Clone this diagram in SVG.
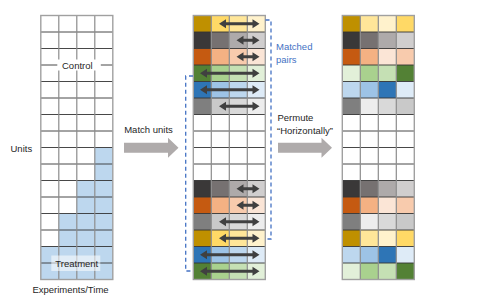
<svg xmlns="http://www.w3.org/2000/svg" xmlns:xlink="http://www.w3.org/1999/xlink" width="479" height="305" viewBox="0 0 479 305">
<style>
text{font-family:"Liberation Sans","Open Sans",Arial,sans-serif;font-size:9.5px;fill:#262626}
.blue-text{fill:#4472C4}
.hl{stroke:#333333;stroke-width:0.9;fill:none}
.vl{stroke:#8c8c8c;stroke-width:1.2;fill:none}
.border{stroke:#a0a0a0;stroke-width:1.4;fill:none}
.block{fill:#AFABAB}
.dbl{fill:#404040}
.bracket{stroke:#4472C4;stroke-width:1.3;stroke-dasharray:4 3;fill:none}
.wh{fill:#ffffff}
.tb{fill:#BDD7EE}
.g1{fill:#BF9000}.g2{fill:#FFD966}.g3{fill:#FFE699}.g4{fill:#FFF2CC}
.k1{fill:#3A3838}.k2{fill:#767171}.k3{fill:#AEAAAA}.k4{fill:#D0CECE}
.o1{fill:#C55A11}.o2{fill:#F4B183}.o3{fill:#F8CBAD}.o4{fill:#FBE5D6}
.e1{fill:#538135}.e2{fill:#A9D18E}.e3{fill:#C5E0B4}.e4{fill:#E2F0D9}
.b1{fill:#2E75B6}.b2{fill:#9DC3E6}.b3{fill:#BDD7EE}.b4{fill:#DEEBF7}
.m1{fill:#7F7F7F}.m2{fill:#C9C9C9}.m3{fill:#D9D9D9}.m4{fill:#EDEDED}
</style>
<defs>
<path id="dblFull" d="M0 0 L7 -4.5 L7 -1.5 L52.5 -1.5 L52.5 -4.5 L59.5 0 L52.5 4.5 L52.5 1.5 L7 1.5 L7 4.5 Z"/>
<path id="dblMed" d="M0 0 L7 -4.5 L7 -1.5 L33.5 -1.5 L33.5 -4.5 L40.5 0 L33.5 4.5 L33.5 1.5 L7 1.5 L7 4.5 Z"/>
<path id="dblShort" d="M0 0 L7 -4.5 L7 -1.5 L16 -1.5 L16 -4.5 L23 0 L16 4.5 L16 1.5 L7 1.5 L7 4.5 Z"/>
<g id="gridlines">
<path class="hl" d="M0 16.5H72M0 33H72M0 49.5H72M0 66H72M0 82.5H72M0 99H72M0 115.5H72M0 132H72M0 148.5H72M0 165H72M0 181.5H72M0 198H72M0 214.5H72M0 231H72M0 247.5H72"/>
<path class="vl" d="M18 0V264M36 0V264M54 0V264"/>
<rect class="border" x="0" y="0" width="72" height="264"/>
</g>
</defs>

<g id="grid-left" transform="translate(40.8,15.5)">
<rect class="wh" x="0" y="0" width="72" height="264"/>
<rect class="tb" x="54" y="132" width="18" height="132"/>
<rect class="tb" x="36" y="165" width="18" height="99"/>
<rect class="tb" x="18" y="198" width="18" height="66"/>
<rect class="tb" x="0" y="231" width="18" height="33"/>
<use xlink:href="#gridlines"/>
<rect x="16.5" y="44" width="43.5" height="11" fill="#ffffff"/>
<text x="36.5" y="53.3" text-anchor="middle">Control</text>
<rect x="10.5" y="240" width="49" height="15.5" fill="#ffffff" fill-opacity="0.55"/>
<text x="36" y="251" text-anchor="middle">Treatment</text>
</g>

<g id="label-units"><text x="10.5" y="151.5">Units</text></g>
<g id="label-time"><text x="70.5" y="292.5" text-anchor="middle">Experiments/Time</text></g>

<g id="grid-matched" transform="translate(193.3,15.5)">
<rect class="wh" x="0" y="0" width="72" height="264"/>
<rect class="g1" x="0" y="0" width="18" height="16.5"/><rect class="g2" x="18" y="0" width="18" height="16.5"/><rect class="g3" x="36" y="0" width="18" height="16.5"/><rect class="g4" x="54" y="0" width="18" height="16.5"/>
<rect class="k1" x="0" y="16.5" width="18" height="16.5"/><rect class="k2" x="18" y="16.5" width="18" height="16.5"/><rect class="k3" x="36" y="16.5" width="18" height="16.5"/><rect class="k4" x="54" y="16.5" width="18" height="16.5"/>
<rect class="o1" x="0" y="33" width="18" height="16.5"/><rect class="o2" x="18" y="33" width="18" height="16.5"/><rect class="o3" x="36" y="33" width="18" height="16.5"/><rect class="o4" x="54" y="33" width="18" height="16.5"/>
<rect class="e1" x="0" y="49.5" width="18" height="16.5"/><rect class="e2" x="18" y="49.5" width="18" height="16.5"/><rect class="e3" x="36" y="49.5" width="18" height="16.5"/><rect class="e4" x="54" y="49.5" width="18" height="16.5"/>
<rect class="b1" x="0" y="66" width="18" height="16.5"/><rect class="b2" x="18" y="66" width="18" height="16.5"/><rect class="b3" x="36" y="66" width="18" height="16.5"/><rect class="b4" x="54" y="66" width="18" height="16.5"/>
<rect class="m1" x="0" y="82.5" width="18" height="16.5"/><rect class="m2" x="18" y="82.5" width="18" height="16.5"/><rect class="m3" x="36" y="82.5" width="18" height="16.5"/><rect class="m4" x="54" y="82.5" width="18" height="16.5"/>
<rect class="k1" x="0" y="165" width="18" height="16.5"/><rect class="k2" x="18" y="165" width="18" height="16.5"/><rect class="k3" x="36" y="165" width="18" height="16.5"/><rect class="k4" x="54" y="165" width="18" height="16.5"/>
<rect class="o1" x="0" y="181.5" width="18" height="16.5"/><rect class="o2" x="18" y="181.5" width="18" height="16.5"/><rect class="o3" x="36" y="181.5" width="18" height="16.5"/><rect class="o4" x="54" y="181.5" width="18" height="16.5"/>
<rect class="m1" x="0" y="198" width="18" height="16.5"/><rect class="m2" x="18" y="198" width="18" height="16.5"/><rect class="m3" x="36" y="198" width="18" height="16.5"/><rect class="m4" x="54" y="198" width="18" height="16.5"/>
<rect class="g1" x="0" y="214.5" width="18" height="16.5"/><rect class="g2" x="18" y="214.5" width="18" height="16.5"/><rect class="g3" x="36" y="214.5" width="18" height="16.5"/><rect class="g4" x="54" y="214.5" width="18" height="16.5"/>
<rect class="b1" x="0" y="231" width="18" height="16.5"/><rect class="b2" x="18" y="231" width="18" height="16.5"/><rect class="b3" x="36" y="231" width="18" height="16.5"/><rect class="b4" x="54" y="231" width="18" height="16.5"/>
<rect class="e1" x="0" y="247.5" width="18" height="16.5"/><rect class="e2" x="18" y="247.5" width="18" height="16.5"/><rect class="e3" x="36" y="247.5" width="18" height="16.5"/><rect class="e4" x="54" y="247.5" width="18" height="16.5"/>
<use xlink:href="#gridlines"/>
</g>

<g id="grid-permuted" transform="translate(342.3,15.5)">
<rect class="wh" x="0" y="0" width="72" height="264"/>
<rect class="g1" x="0" y="0" width="18" height="16.5"/><rect class="g3" x="18" y="0" width="18" height="16.5"/><rect class="g4" x="36" y="0" width="18" height="16.5"/><rect class="g2" x="54" y="0" width="18" height="16.5"/>
<rect class="k1" x="0" y="16.5" width="18" height="16.5"/><rect class="k2" x="18" y="16.5" width="18" height="16.5"/><rect class="k3" x="36" y="16.5" width="18" height="16.5"/><rect class="k4" x="54" y="16.5" width="18" height="16.5"/>
<rect class="o1" x="0" y="33" width="18" height="16.5"/><rect class="o2" x="18" y="33" width="18" height="16.5"/><rect class="o4" x="36" y="33" width="18" height="16.5"/><rect class="o3" x="54" y="33" width="18" height="16.5"/>
<rect class="e4" x="0" y="49.5" width="18" height="16.5"/><rect class="e2" x="18" y="49.5" width="18" height="16.5"/><rect class="e3" x="36" y="49.5" width="18" height="16.5"/><rect class="e1" x="54" y="49.5" width="18" height="16.5"/>
<rect class="b3" x="0" y="66" width="18" height="16.5"/><rect class="b2" x="18" y="66" width="18" height="16.5"/><rect class="b1" x="36" y="66" width="18" height="16.5"/><rect class="b4" x="54" y="66" width="18" height="16.5"/>
<rect class="m1" x="0" y="82.5" width="18" height="16.5"/><rect class="m4" x="18" y="82.5" width="18" height="16.5"/><rect class="m3" x="36" y="82.5" width="18" height="16.5"/><rect class="m2" x="54" y="82.5" width="18" height="16.5"/>
<rect class="k1" x="0" y="165" width="18" height="16.5"/><rect class="k2" x="18" y="165" width="18" height="16.5"/><rect class="k3" x="36" y="165" width="18" height="16.5"/><rect class="k4" x="54" y="165" width="18" height="16.5"/>
<rect class="o1" x="0" y="181.5" width="18" height="16.5"/><rect class="o2" x="18" y="181.5" width="18" height="16.5"/><rect class="o4" x="36" y="181.5" width="18" height="16.5"/><rect class="o3" x="54" y="181.5" width="18" height="16.5"/>
<rect class="m1" x="0" y="198" width="18" height="16.5"/><rect class="m4" x="18" y="198" width="18" height="16.5"/><rect class="m3" x="36" y="198" width="18" height="16.5"/><rect class="m2" x="54" y="198" width="18" height="16.5"/>
<rect class="g1" x="0" y="214.5" width="18" height="16.5"/><rect class="g3" x="18" y="214.5" width="18" height="16.5"/><rect class="g4" x="36" y="214.5" width="18" height="16.5"/><rect class="g2" x="54" y="214.5" width="18" height="16.5"/>
<rect class="b3" x="0" y="231" width="18" height="16.5"/><rect class="b2" x="18" y="231" width="18" height="16.5"/><rect class="b1" x="36" y="231" width="18" height="16.5"/><rect class="b4" x="54" y="231" width="18" height="16.5"/>
<rect class="e4" x="0" y="247.5" width="18" height="16.5"/><rect class="e2" x="18" y="247.5" width="18" height="16.5"/><rect class="e3" x="36" y="247.5" width="18" height="16.5"/><rect class="e1" x="54" y="247.5" width="18" height="16.5"/>
<use xlink:href="#gridlines"/>
</g>

<g id="connectors">
<polygon class="block" points="124,142.7 168,142.7 168,137.7 178.5,147.7 168,157.7 168,152.7 124,152.7"/>
<polygon class="block" points="278,142.7 321.5,142.7 321.5,137.7 332,147.7 321.5,157.7 321.5,152.7 278,152.7"/>
<g class="dbl">
<use xlink:href="#dblMed" x="219" y="23.75"/>
<use xlink:href="#dblShort" x="236.5" y="40.25"/>
<use xlink:href="#dblShort" x="236.5" y="56.75"/>
<use xlink:href="#dblFull" x="200" y="73.25"/>
<use xlink:href="#dblFull" x="200" y="89.75"/>
<use xlink:href="#dblMed" x="219" y="106.25"/>
<use xlink:href="#dblShort" x="236.5" y="188.75"/>
<use xlink:href="#dblShort" x="236.5" y="205.25"/>
<use xlink:href="#dblMed" x="219" y="221.75"/>
<use xlink:href="#dblMed" x="219" y="238.25"/>
<use xlink:href="#dblFull" x="200" y="254.75"/>
<use xlink:href="#dblFull" x="200" y="271.25"/>
</g>
<path class="bracket" d="M265.5 20 H271 V239 H265.5"/>
<path class="bracket" d="M193 76 H185.7 V271 H193"/>
</g>

<g id="label-match"><text x="148.5" y="132.5" text-anchor="middle">Match units</text></g>
<g id="label-permute"><text x="277.5" y="121">Permute</text><text x="277" y="134">“Horizontally”</text></g>
<g id="label-pairs"><text class="blue-text" x="276" y="49.5">Matched</text><text class="blue-text" x="276" y="63">pairs</text></g>
</svg>
